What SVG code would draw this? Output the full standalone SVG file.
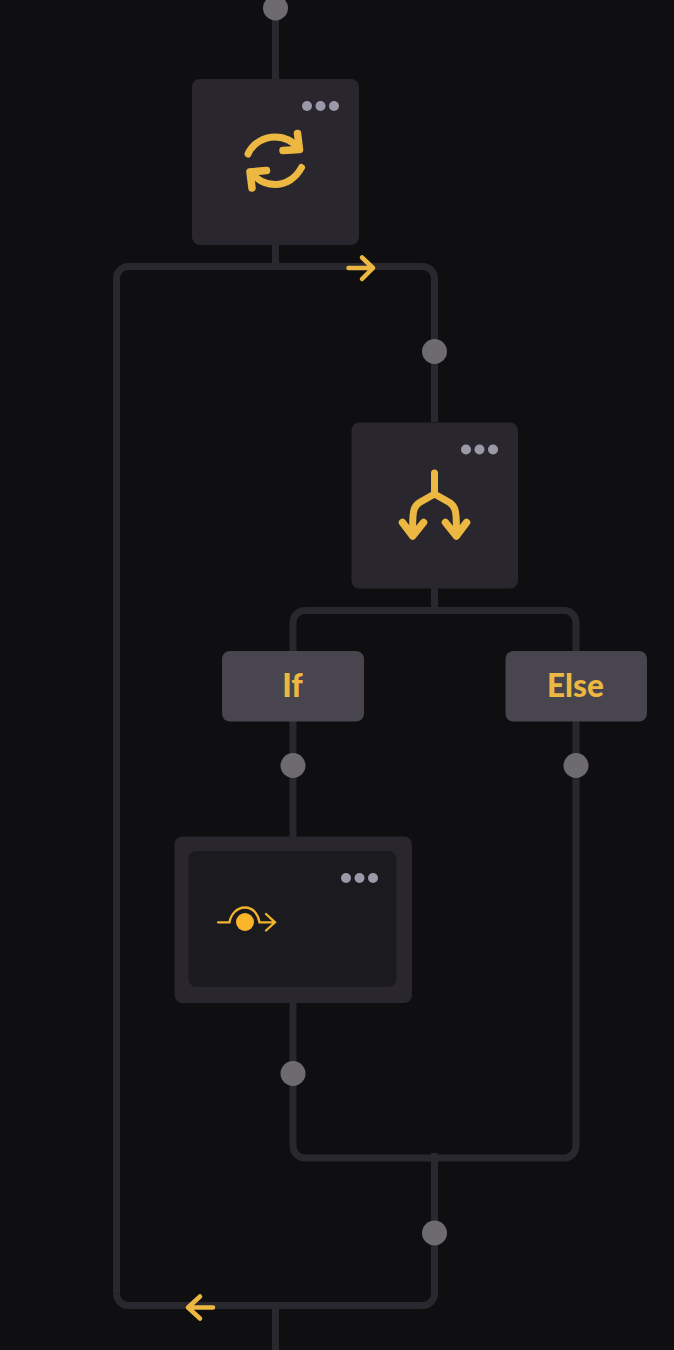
<svg xmlns="http://www.w3.org/2000/svg" width="674" height="1350" viewBox="0 0 674 1350">
<style>
.c{fill:none;stroke:#2a282f;stroke-width:7}
.n{fill:#29272d}
.d{fill:#9b98a8}
.p{fill:#6d6b70}
.a{fill:none;stroke:#edb842;stroke-linecap:round;stroke-linejoin:round}
.l{fill:#48454f}
.t{font-family:"Lato",sans-serif;font-weight:900;font-size:31.500px;fill:#edb842;text-anchor:middle}
</style>
<rect width="674" height="1350" fill="#0f0f11"/>
<g id="connectors">
<path class="c" d="M275.500 8V266.500"/>
<path class="c" d="M116.500 1293.500V278.500a12 12 0 0 1 12-12H422.500a12 12 0 0 1 12 12V422"/>
<path class="c" d="M434.500 1153V1293.500a12 12 0 0 1-12 12H128.500a12 12 0 0 1-12-12"/>
<path class="c" d="M434.500 588V611"/>
<path class="c" d="M293 1146V622.500a12 12 0 0 1 12-12H564a12 12 0 0 1 12 12V1146a12 12 0 0 1-12 12H305a12 12 0 0 1-12-12Z"/>
<path class="c" d="M275.500 1303V1350"/>
</g>
<g id="pins">
<circle class="p" cx="275.500" cy="8" r="12.500"/>
<circle class="p" cx="434.500" cy="351.500" r="12.500"/>
<circle class="p" cx="293" cy="765.500" r="12.500"/>
<circle class="p" cx="576" cy="765.500" r="12.500"/>
<circle class="p" cx="293" cy="1073.500" r="12.500"/>
<circle class="p" cx="434.500" cy="1233" r="12.500"/>
</g>
<g id="loop-arrow-right"><path class="a" stroke-width="4.500" d="M348.500 268H373M362 257.500L373 268L362 279"/></g>
<g id="loop-arrow-left"><path class="a" stroke-width="4.500" d="M213 1307.500H188M200 1296.500L188 1307.500L200 1318.500"/></g>
<g id="node-loop">
<rect class="n" x="192" y="79" width="167" height="166" rx="8"/>
<circle class="d" cx="307" cy="106" r="5"/><circle class="d" cx="320.500" cy="106" r="5"/><circle class="d" cx="334" cy="106" r="5"/>
<path class="a" stroke-width="7" d="M248 154C253 143 264 137 275 137C285 137 293 141 299 149"/>
<path class="a" stroke-width="7.500" d="M297.500 133.500L299.500 149.500L283 150.500"/>
<path class="a" stroke-width="7" d="M301.500 167.500C296 178 286 184.500 275 184.500C265 184.500 257 180 251 172"/>
<path class="a" stroke-width="7.500" d="M252 188L250 172L266.500 170.500"/>
</g>
<g id="node-branch">
<rect class="n" x="351.500" y="422.500" width="166.500" height="166" rx="8"/>
<circle class="d" cx="466" cy="449.500" r="5"/><circle class="d" cx="479.500" cy="449.500" r="5"/><circle class="d" cx="493" cy="449.500" r="5"/>
<path class="a" stroke-width="7" d="M434.500 473V493M434.500 494L419.500 502.500C413 506.500 412.500 512 412.500 535M434.500 494L449.500 502.500C456 506.500 456.500 512 456.500 535"/>
<path class="a" stroke-width="7.500" d="M402.500 522.500L412.700 536L423.500 522.500M445.500 522.500L456.300 536L466.500 522.500"/>
</g>
<g id="label-if">
<rect class="l" x="222" y="651" width="142" height="70.500" rx="8"/>
<text class="t" x="292.500" y="697">If</text>
</g>
<g id="label-else">
<rect class="l" x="505.500" y="651" width="141.500" height="70.500" rx="8"/>
<text class="t" x="575.500" y="697">Else</text>
</g>
<g id="node-step">
<rect class="n" x="174.500" y="836.500" width="237.500" height="166.500" rx="8"/>
<rect fill="#1b1a1f" x="188.500" y="851" width="208" height="136" rx="8"/>
<circle class="d" cx="346" cy="878" r="5"/><circle class="d" cx="359.500" cy="878" r="5"/><circle class="d" cx="373" cy="878" r="5"/>
<path fill="none" stroke="#f0b32c" stroke-width="2.300" stroke-linecap="round" d="M218 922.300H229.500C231 914 237 907.500 245 907.500C253 907.500 258 914 259.500 922.300H274M266 914L275 922.300L266 930.500"/>
<circle cx="245" cy="922" r="9" fill="#fbb52a"/>
</g>
</svg>
